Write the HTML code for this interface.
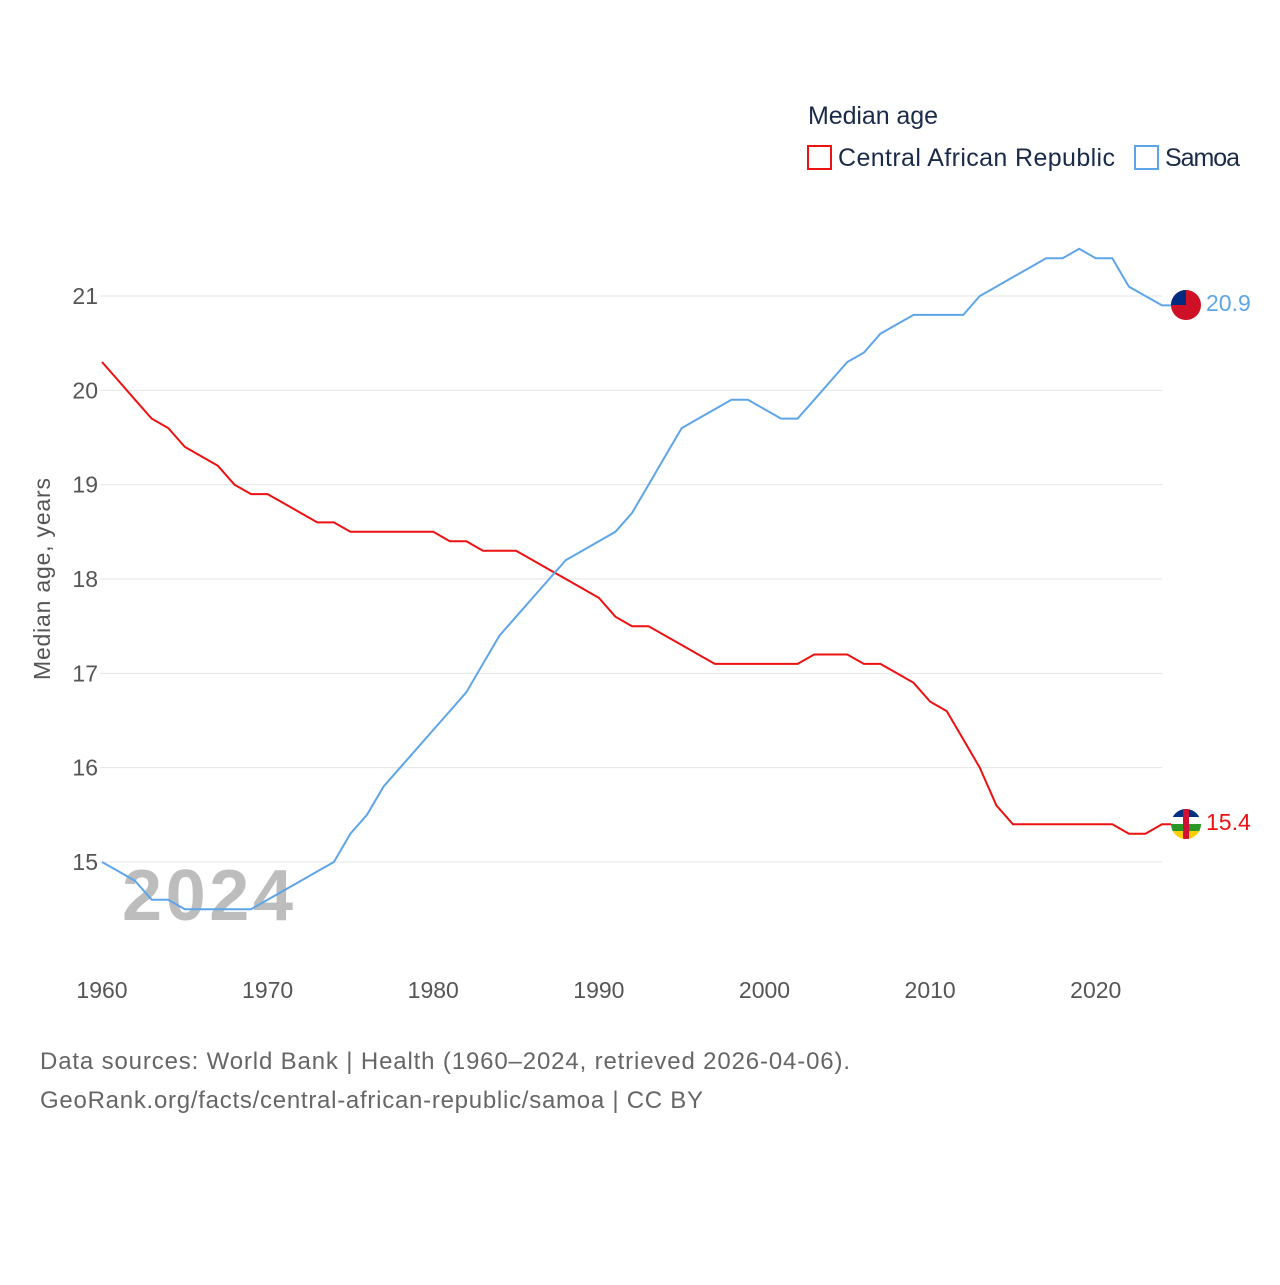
<!DOCTYPE html>
<html><head><meta charset="utf-8"><style>
body{margin:0;background:#fff;width:1280px;height:1280px;overflow:hidden;font-family:"Liberation Sans",sans-serif}
</style></head><body>
<svg id="chart" width="1280" height="1280" xmlns="http://www.w3.org/2000/svg" font-family="Liberation Sans, sans-serif">
<text x="808" y="124" font-size="25" fill="#1a2b4a" textLength="130">Median age</text>
<g><rect x="808" y="146" width="23" height="23" fill="none" stroke="#ee1111" stroke-width="2"/><text x="838" y="166" font-size="25" fill="#1a2b4a" textLength="277">Central African Republic</text></g>
<g><rect x="1135" y="146" width="23" height="23" fill="none" stroke="#5ea5e8" stroke-width="2"/><text x="1165" y="166" font-size="25" fill="#1a2b4a" textLength="75">Samoa</text></g>
<g id="grid"></g><g id="xt"></g>
<text x="122" y="920" font-size="72" font-weight="bold" fill="#bdbdbd" textLength="171">2024</text>
<g id="series"></g>
<text transform="translate(50,579) rotate(-90)" text-anchor="middle" font-size="23" fill="#555" textLength="202">Median age, years</text>
<g><circle cx="1186" cy="305" r="15" fill="#ce1126"/><path d="M1171 305 A15 15 0 0 1 1186 290 L1186 305 Z" fill="#002b7f"/></g>
<g><clipPath id="cc"><circle cx="1186" cy="824" r="15"/></clipPath><g clip-path="url(#cc)"><rect x="1171" y="809" width="30" height="8" fill="#003082"/><rect x="1171" y="817" width="30" height="7" fill="#fff"/><rect x="1171" y="824" width="30" height="7" fill="#289728"/><rect x="1171" y="831" width="30" height="8" fill="#ffce00"/><rect x="1183" y="809" width="6" height="30" fill="#d21034"/></g></g>
<text x="1206" y="311" font-size="23" fill="#5ea5e8">20.9</text>
<text x="1206" y="830" font-size="23" fill="#ee1111">15.4</text>
<text x="40" y="1069" font-size="24" fill="#666" textLength="810">Data sources: World Bank | Health (1960–2024, retrieved 2026-04-06).</text>
<text x="40" y="1108" font-size="24" fill="#666" textLength="663">GeoRank.org/facts/central-african-republic/samoa | CC BY</text>
</svg>
<script>
const years=[];for(let y=1960;y<=2024;y++)years.push(y);
const carValues=[20.3,20.1,19.9,19.7,19.6,19.4,19.3,19.2,19.0,18.9,18.9,18.8,18.7,18.6,18.6,18.5,18.5,18.5,18.5,18.5,18.5,18.4,18.4,18.3,18.3,18.3,18.2,18.1,18.0,17.9,17.8,17.6,17.5,17.5,17.4,17.3,17.2,17.1,17.1,17.1,17.1,17.1,17.1,17.2,17.2,17.2,17.1,17.1,17.0,16.9,16.7,16.6,16.3,16.0,15.6,15.4,15.4,15.4,15.4,15.4,15.4,15.4,15.3,15.3,15.4];
const samoaValues=[15.0,14.9,14.8,14.6,14.6,14.5,14.5,14.5,14.5,14.5,14.6,14.7,14.8,14.9,15.0,15.3,15.5,15.8,16.0,16.2,16.4,16.6,16.8,17.1,17.4,17.6,17.8,18.0,18.2,18.3,18.4,18.5,18.7,19.0,19.3,19.6,19.7,19.8,19.9,19.9,19.8,19.7,19.7,19.9,20.1,20.3,20.4,20.6,20.7,20.8,20.8,20.8,20.8,21.0,21.1,21.2,21.3,21.4,21.4,21.5,21.4,21.4,21.1,21.0,20.9];
const yTicks=[15,16,17,18,19,20,21];
const xTicks=[1960,1970,1980,1990,2000,2010,2020];
const NS='http://www.w3.org/2000/svg';
const xS=y=>102+(y-1960)*(1162-102)/64;
const yS=v=>862-(v-15)*(862-296)/6;
const grid=document.getElementById('grid');
yTicks.forEach(t=>{
 const l=document.createElementNS(NS,'line');
 l.setAttribute('x1',100);l.setAttribute('x2',1162);l.setAttribute('y1',yS(t));l.setAttribute('y2',yS(t));l.setAttribute('stroke','#e6e6e6');
 
 
 grid.appendChild(l);
 const tx=document.createElementNS(NS,'text');
 tx.setAttribute('x',98);tx.setAttribute('y',yS(t)+8);tx.setAttribute('text-anchor','end');tx.setAttribute('font-size','23');tx.setAttribute('fill','#555');tx.textContent=t;
 
 
 grid.appendChild(tx);
});
const xt=document.getElementById('xt');
xTicks.forEach(t=>{
 const tx=document.createElementNS(NS,'text');
 tx.setAttribute('x',xS(t));tx.setAttribute('y',998);tx.setAttribute('text-anchor','middle');tx.setAttribute('font-size','23');tx.setAttribute('fill','#555');tx.textContent=t;
 
 
 xt.appendChild(tx);
});
const ser=document.getElementById('series');
[[carValues,'#ee1111','line-car'],[samoaValues,'#5ea5e8','line-samoa']].forEach(([vals,c,n])=>{
 const p=document.createElementNS(NS,'path');
 const last=vals[vals.length-1];
 p.setAttribute('d',vals.map((v,i)=>(i?'L':'M')+xS(years[i]).toFixed(1)+' '+yS(v).toFixed(1)).join(' ')+' L1172 '+yS(last).toFixed(1));
 p.setAttribute('fill','none');p.setAttribute('stroke',c);p.setAttribute('stroke-width','2');
 
 
 ser.appendChild(p);
});
</script>
</body></html>
